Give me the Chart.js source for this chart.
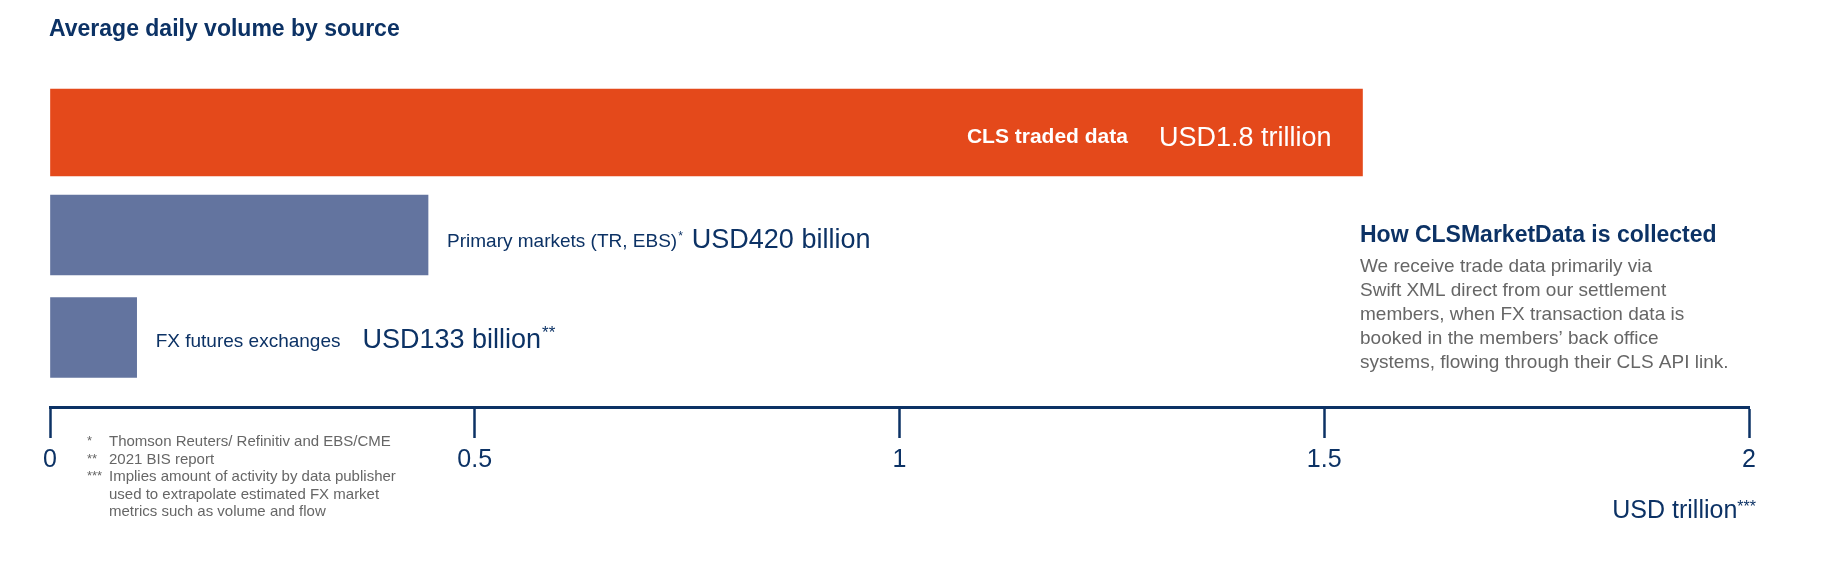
<!DOCTYPE html>
<html lang="en">
<head>
  <meta charset="UTF-8">
  <title>Average daily volume by source</title>
  <script src="https://cdn.jsdelivr.net/npm/chart.js"></script>
  <style>
    html, body { margin: 0; padding: 0; background: #fff; }
    #wrap { width: 1825px; height: 565px; }
  </style>
</head>
<body>
  <div id="wrap"><canvas id="volumeChart" width="1825" height="565"></canvas></div>

  <script>
    // bar lengths as drawn on the axis (USD trillion), labels as printed
    const categories = ['CLS traded data', 'Primary markets (TR, EBS)', 'FX futures exchanges'];
    const barLengths = [1.545, 0.445, 0.102];
    const valueLabels = ['USD1.8 trillion', 'USD420 billion', 'USD133 billion'];
    const labelMarks = ['', '*', ''];
    const valueMarks = ['', '', '**'];
    const xTicks = [0, 0.5, 1, 1.5, 2];
    const footnoteMarks = ['*', '**', '***', '', ''];
    const footnotes = [
      'Thomson Reuters/ Refinitiv and EBS/CME',
      '2021 BIS report',
      'Implies amount of activity by data publisher',
      'used to extrapolate estimated FX market',
      'metrics such as volume and flow'
    ];
    const sideTitle = 'How CLSMarketData is collected';
    const sideText = [
      'We receive trade data primarily via',
      'Swift XML direct from our settlement',
      'members, when FX transaction data is',
      'booked in the members\u2019 back office',
      'systems, flowing through their CLS API link.'
    ];

    const NAVY = '#0c3265';
    const GREY = '#666666';
    const ORANGE = '#e4491b';
    const BLUE = '#63749f';
    const FONT = '"Liberation Sans", Arial, sans-serif';

    function font(size, weight) {
      return (weight || 'normal') + ' ' + size + 'px ' + FONT;
    }

    const textPlugin = {
      id: 'texts',
      afterDraw(chart) {
        const ctx = chart.ctx;
        const x = chart.scales.x;
        ctx.save();
        ctx.textBaseline = 'alphabetic';

        // heading
        ctx.fillStyle = NAVY;
        ctx.font = font(23, 'bold');
        ctx.textAlign = 'left';
        ctx.fillText('Average daily volume by source', 49, 36);

        // bar labels
        const orange = chart.getDatasetMeta(0).data[0];
        ctx.textAlign = 'right';
        ctx.fillStyle = '#ffffff';
        ctx.font = font(27);
        const valRight = orange.x - 31;
        ctx.fillText(valueLabels[0], valRight, orange.y + 13);
        const valW = ctx.measureText(valueLabels[0]).width;
        ctx.font = font(21, 'bold');
        ctx.fillText(categories[0], valRight - valW - 31, orange.y + 10);

        const blues = chart.getDatasetMeta(1).data;
        const offsets = [null, 12, 9];
        blues.forEach((bar, j) => {
          const i = j + 1;
          let cx = bar.x + 19;
          const base = bar.y + offsets[i];
          ctx.textAlign = 'left';
          ctx.fillStyle = NAVY;
          ctx.font = font(19);
          ctx.fillText(categories[i], cx, base);
          cx += ctx.measureText(categories[i]).width;
          if (labelMarks[i]) {
            ctx.font = font(12);
            ctx.fillText(labelMarks[i], cx + 1, base - 7);
            cx += ctx.measureText(labelMarks[i]).width + 1;
          }
          cx += i === 1 ? 9 : 22;
          ctx.font = font(27);
          ctx.fillText(valueLabels[i], cx, base + 1);
          cx += ctx.measureText(valueLabels[i]).width;
          if (valueMarks[i]) {
            ctx.font = font(17);
            ctx.fillText(valueMarks[i], cx + 1, base - 9);
          }
        });

        // side note
        ctx.textAlign = 'left';
        ctx.fillStyle = NAVY;
        ctx.font = font(23, 'bold');
        ctx.fillText(sideTitle, 1360, 242);
        ctx.fillStyle = GREY;
        ctx.font = font(19);
        sideText.forEach((line, i) => ctx.fillText(line, 1360, 272 + i * 24.1));

        // footnotes
        footnotes.forEach((line, i) => {
          const base = 446 + i * 17.5;
          ctx.font = font(13);
          if (footnoteMarks[i]) ctx.fillText(footnoteMarks[i], 87, base - 1);
          ctx.font = font(15);
          ctx.fillText(line, 109, base);
        });

        // axis unit
        ctx.fillStyle = NAVY;
        ctx.font = font(16);
        const starW = ctx.measureText('***').width;
        const unitRight = x.right + 7;
        ctx.textAlign = 'right';
        ctx.fillText('***', unitRight, 512);
        ctx.font = font(25);
        ctx.fillText('USD trillion', unitRight - starW, 518);
        ctx.restore();
      }
    };

    new Chart(document.getElementById('volumeChart').getContext('2d'), {
      type: 'bar',
      data: {
        datasets: [
          {
            data: [{ x: barLengths[0], y: 0 }],
            backgroundColor: ORANGE,
            barThickness: 87
          },
          {
            data: [{ x: barLengths[1], y: 1 }, { x: barLengths[2], y: 2 }],
            backgroundColor: BLUE,
            barThickness: 80
          }
        ]
      },
      options: {
        responsive: false,
        animation: false,
        indexAxis: 'y',
        grouped: false,
        layout: { padding: { left: 50, right: 76, top: 81.25, bottom: 0 } },
        plugins: {
          legend: { display: false },
          tooltip: { enabled: false },
          title: { display: false }
        },
        scales: {
          x: {
            type: 'linear',
            position: 'bottom',
            min: xTicks[0],
            max: xTicks[xTicks.length - 1],
            afterBuildTicks: (scale) => { scale.ticks = xTicks.map(v => ({ value: v })); },
            afterFit: (scale) => { scale.height = 158; },
            border: { display: true, color: NAVY, width: 3 },
            grid: {
              drawOnChartArea: false,
              drawTicks: true,
              tickLength: 31,
              tickWidth: 2.5,
              tickColor: NAVY
            },
            ticks: {
              color: NAVY,
              padding: 7,
              font: { family: FONT, size: 25 },
              callback: (v) => String(v)
            }
          },
          y: {
            type: 'linear',
            display: false,
            offset: false,
            reverse: true,
            min: -0.5,
            max: 2.678
          }
        }
      },
      plugins: [textPlugin]
    });
  </script>
</body>
</html>
